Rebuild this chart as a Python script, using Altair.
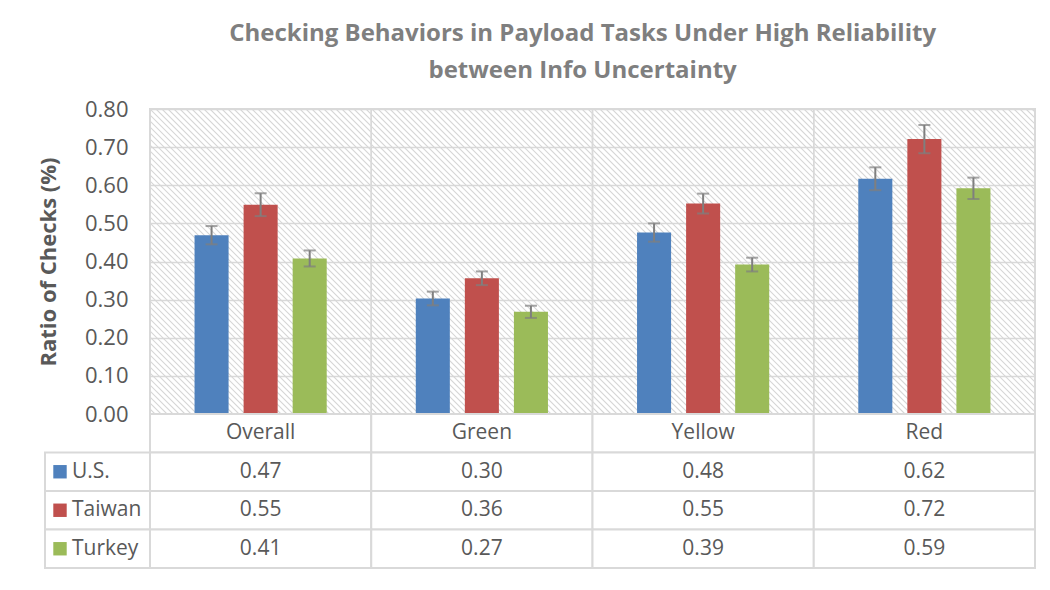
import altair as alt
import pandas as pd

categories = ["Overall", "Green", "Yellow", "Red"]
series = ["U.S.", "Taiwan", "Turkey"]
us_vals = [0.469, 0.303, 0.476, 0.617]
tw_vals = [0.549, 0.356, 0.552, 0.721]
tr_vals = [0.408, 0.268, 0.392, 0.592]
us_err = [0.024, 0.018, 0.024, 0.030]
tw_err = [0.030, 0.018, 0.026, 0.037]
tr_err = [0.021, 0.016, 0.018, 0.028]
y_ticks = [0.0, 0.1, 0.2, 0.3, 0.4, 0.5, 0.6, 0.7, 0.8]
colors = ["#4f81bd", "#c0504d", "#9bbb59"]
title_lines = ["Checking Behaviors in Payload Tasks Under High Reliability",
               "between Info Uncertainty"]
y_title = "Ratio of Checks (%)"

rows = []
for s, vals, errs in [("U.S.", us_vals, us_err), ("Taiwan", tw_vals, tw_err), ("Turkey", tr_vals, tr_err)]:
    for c, v, e in zip(categories, vals, errs):
        rows.append({"category": c, "series": s, "value": v, "lo": v - e, "hi": v + e})
df = pd.DataFrame(rows)
cat_df = pd.DataFrame({"category": categories, "row": ["hdr"] * 4})

FONT = "Open Sans"
GRID = "#d9d9d9"
TXT = "#595959"
W, H = 885, 305

xscale = alt.Scale(domain=categories, paddingInner=0, paddingOuter=0)
offscale = alt.Scale(domain=series, paddingInner=0.306, paddingOuter=0.908)
cscale = alt.Scale(domain=series, range=colors)
yscale = alt.Scale(domain=[0, 0.8], nice=False)

yaxis = alt.Axis(values=y_ticks, format=".2f", title=y_title,
                 titleFont=FONT, titleFontSize=22, titleFontWeight="bold", titleColor=TXT,
                 titlePadding=24, labelFont=FONT, labelFontSize=22, labelColor=TXT,
                 labelPadding=22, labelOverlap=False, ticks=False, domain=False, grid=True,
                 gridColor=GRID, gridWidth=1.5)

# hatch background
hatch = alt.Chart(alt.sequence(-53, 150, as_="i")).transform_calculate(
    x0="datum.i * 6", x1="datum.i * 6 + 305"
).mark_rule(clip=True, color="#d6d6d6", strokeWidth=1.1).encode(
    x=alt.X("x0:Q", scale=alt.Scale(domain=[0, W], nice=False, zero=False), axis=None),
    x2="x1:Q",
    y=alt.value(0),
    y2=alt.value(H),
)

base = alt.Chart(df)
xenc = alt.X("category:N", scale=xscale, sort=categories, axis=None)
offenc = alt.XOffset("series:N", scale=offscale, sort=series)

# category boundary lines (vertical gridlines)
bounds = alt.Chart(cat_df).mark_rect(fill=None, stroke=GRID, strokeWidth=1.5).encode(
    x=xenc, y=alt.value(0), y2=alt.value(H))

bars = base.mark_bar().encode(
    x=xenc, xOffset=offenc,
    y=alt.Y("value:Q", scale=yscale, axis=yaxis),
    color=alt.Color("series:N", scale=cscale, legend=None),
)
err = base.mark_rule(color="#7f7f7f", strokeWidth=2).encode(
    x=xenc, xOffset=offenc,
    y=alt.Y("lo:Q", scale=yscale, axis=yaxis), y2="hi:Q",
)
cap_lo = base.mark_tick(color="#7f7f7f", thickness=2, size=12).encode(
    x=xenc, xOffset=offenc,
    y=alt.Y("lo:Q", scale=yscale, axis=yaxis),
)
cap_hi = base.mark_tick(color="#7f7f7f", thickness=2, size=12).encode(
    x=xenc, xOffset=offenc,
    y=alt.Y("hi:Q", scale=yscale, axis=yaxis),
)
main = alt.layer(bounds, bars, err, cap_lo, cap_hi)
top = alt.layer(hatch, main).resolve_scale(x="independent", y="independent").properties(
    width=W, height=H, view=alt.ViewBackground(stroke=GRID, strokeWidth=2))

# table
rowdomain = ["hdr"] + series
rscale = alt.Scale(domain=rowdomain, paddingInner=0, paddingOuter=0)
ser_df = pd.DataFrame({"row": series})
tx = alt.X("category:N", scale=xscale, sort=categories, axis=None)
ty = alt.Y("row:N", scale=rscale, axis=None)

cell_df = pd.concat([cat_df, df.rename(columns={"series": "row"})[["category", "row"]]])
cells = alt.Chart(cell_df).mark_rect(fill="white", stroke=GRID, strokeWidth=2).encode(x=tx, y=ty)
legend_cells = alt.Chart(ser_df).mark_rect(fill="white", stroke=GRID, strokeWidth=2).encode(
    x=alt.value(-105), x2=alt.value(0), y=ty)
hdr_text = alt.Chart(cat_df).mark_text(font=FONT, fontSize=21, color=TXT).encode(
    x=tx, y=ty, text="category:N")
val_text = alt.Chart(df).mark_text(font=FONT, fontSize=21, color=TXT).encode(
    x=tx, y=alt.Y("series:N", scale=rscale, axis=None),
    text=alt.Text("value:Q", format=".2f"))
squares = alt.Chart(ser_df).mark_square(size=180, opacity=1).encode(
    x=alt.value(-90), y=ty,
    color=alt.Color("row:N", scale=cscale, legend=None))
leg_text = alt.Chart(ser_df).mark_text(font=FONT, fontSize=21, color=TXT, align="left").encode(
    x=alt.value(-78), y=ty, text="row:N")

table = alt.layer(cells, legend_cells, hdr_text, val_text, squares, leg_text).properties(
    width=W, height=154)

chart = alt.vconcat(top, table, spacing=0, bounds="flush").properties(
    title=alt.TitleParams(title_lines, font=FONT, fontSize=24, fontWeight="bold", color="#7f7f7f",
                          lineHeight=37, anchor="middle", offset=14, dx=46),
    padding={"left": 28, "top": 14, "right": 0, "bottom": 0},
).configure_view(stroke=None).configure_concat(spacing=0)

chart.save("out.html", embed_options={"renderer": "svg", "actions": False})
